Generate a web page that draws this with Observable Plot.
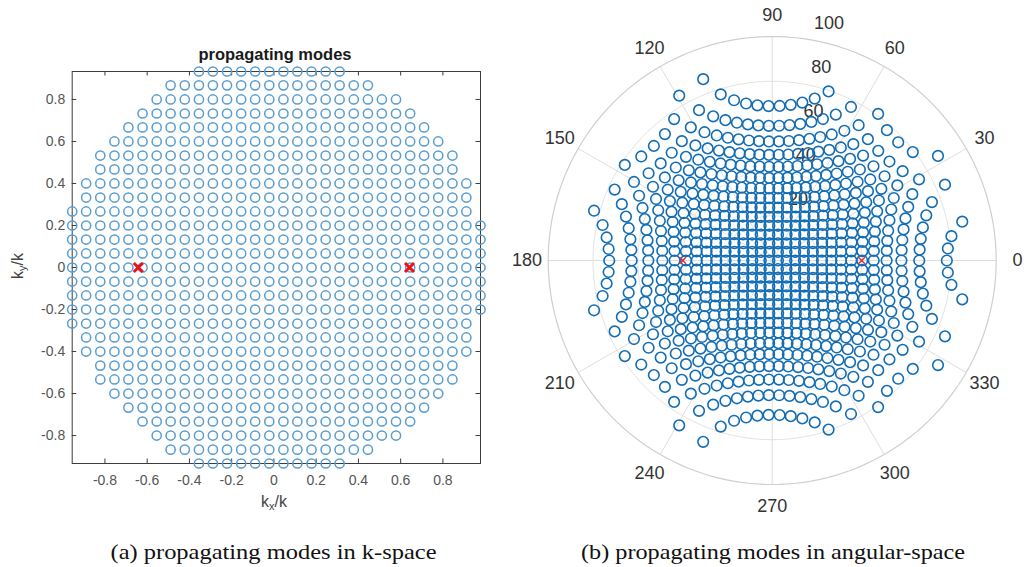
<!DOCTYPE html>
<html><head><meta charset="utf-8">
<script src="https://cdn.jsdelivr.net/npm/d3@7"></script>
<script src="https://cdn.jsdelivr.net/npm/@observablehq/plot@0.6"></script>
<style>
body{margin:0;background:#fff;}
#wrap{position:relative;width:1028px;height:567px;overflow:hidden;font-family:"Liberation Sans",Arial,sans-serif;}
#wrap svg{position:absolute;top:0;overflow:visible;}
.lab{position:absolute;white-space:nowrap;color:#444;font-size:16px;font-family:"Liberation Sans",Arial,sans-serif;}
.lab sub{font-size:11px;vertical-align:-3px;}
</style></head><body><div id="wrap"></div>
<script>
// ---- data ----
// k-space grid columns (kx/k) and rows (ky/k, top to bottom)
const kxCols = [-0.955,-0.889,-0.822,-0.755,-0.689,-0.622,-0.555,-0.489,-0.422,-0.355,
                -0.289,-0.222,-0.155,-0.089,-0.022,0.045,0.111,0.178,0.245,0.311,
                0.378,0.445,0.511,0.578,0.645,0.711,0.778,0.845,0.911,0.978];
const kyRows = [0.933,0.867,0.8,0.733,0.667,0.6,0.533,0.467,0.4,0.333,0.267,0.2,0.133,0.067,0,
                -0.067,-0.133,-0.2,-0.267,-0.333,-0.4,-0.467,-0.533,-0.6,-0.667,-0.733,-0.8,-0.867,-0.933];
// first / last occupied column index of each row (top to bottom)
const rowFirst = [9,7,6,5,4,3,2,2,1,1,0,0,0,0,0,0,0,0,0,1,1,2,2,3,4,5,6,7,9];
const rowLast  = [19,21,23,24,25,26,27,27,28,28,28,29,29,29,29,29,29,29,28,28,28,27,27,26,25,24,23,21,19];
// red crosses
const markKx = [-0.642, 0.642];
const markKy = [0, 0];
// tick labels
const xTicks = [-0.8,-0.6,-0.4,-0.2,0,0.2,0.4,0.6,0.8];
const yTicks = [-0.8,-0.6,-0.4,-0.2,0,0.2,0.4,0.6,0.8];
const thetaTicks = [0,30,60,90,120,150,180,210,240,270,300,330];
const rTicks = [20,40,60,80,100];
const rAxisAngle = 80;

// ---- build tables ----
const modes = kyRows.flatMap((ky, i) => d3.range(rowFirst[i], rowLast[i] + 1).map(c => ({kx: kxCols[c], ky})));
const marks = markKx.map((kx, i) => ({kx, ky: markKy[i]}));
const deg = Math.PI / 180;
const toPolar = d => {
  const rho = Math.asin(Math.min(1, Math.hypot(d.kx, d.ky))) / deg;
  const th = Math.atan2(d.ky, d.kx);
  return {x: rho * Math.cos(th), y: rho * Math.sin(th)};
};
const polarModes = modes.map(toPolar);
const polarMarks = marks.map(toPolar);

const wrap = document.getElementById("wrap");
const sans = "'Liberation Sans', Arial, sans-serif";

// ---- left: k-space ----
const xDom = [kxCols[0], kxCols[kxCols.length - 1]];
const yDom = [kyRows[kyRows.length - 1], kyRows[0]];
const L = {w: 514, h: 530, ml: 71.7, mr: 34, mt: 71, mb: 67};
const pxX = (L.w - L.ml - L.mr) / (xDom[1] - xDom[0]);
const pxY = (L.h - L.mt - L.mb) / (yDom[1] - yDom[0]);
const tl = 4.5;
const frameColor = "#3c3c3c";
const left = Plot.plot({
  width: L.w, height: L.h,
  marginLeft: L.ml, marginRight: L.mr, marginTop: L.mt, marginBottom: L.mb,
  x: {domain: xDom}, y: {domain: yDom},
  style: {background: "transparent", fontFamily: sans},
  marks: [
    Plot.frame({stroke: frameColor, strokeWidth: 1}),
    Plot.ruleX(xTicks, {x: d => d, y1: () => yDom[0], y2: () => yDom[0] + tl / pxY, stroke: frameColor}),
    Plot.ruleX(xTicks, {x: d => d, y1: () => yDom[1], y2: () => yDom[1] - tl / pxY, stroke: frameColor}),
    Plot.ruleY(yTicks, {y: d => d, x1: () => xDom[0], x2: () => xDom[0] + tl / pxX, stroke: frameColor}),
    Plot.ruleY(yTicks, {y: d => d, x1: () => xDom[1], x2: () => xDom[1] - tl / pxX, stroke: frameColor}),
    Plot.axisX(xTicks, {tickSize: 0, tickPadding: 12, fontSize: 14, color: "#555", tickFormat: d => String(d), label: null}),
    Plot.axisY(yTicks, {tickSize: 0, tickPadding: 7, fontSize: 14, color: "#555", tickFormat: d => String(d), label: null}),
    Plot.dot(modes, {x: "kx", y: "ky", r: 4.6, stroke: "#5a9dd0", strokeWidth: 1.5, fill: "none"}),
    Plot.dot(marks, {x: "kx", y: "ky", symbol: "times", r: 4.2, stroke: "#e8141a", strokeWidth: 3})
  ]
});
left.style.left = "0px";
wrap.appendChild(left);

// ---- right: angular space (polar) ----
const R = {w: 514, h: 540, ml: 11.3, mr: 9.9, mt: 13.6, mb: 33.6};
const ringPts = r => d3.range(0, 361, 2).map(a => ({x: r * Math.cos(a * deg), y: r * Math.sin(a * deg)}));
const innerRings = rTicks.slice(0, -1).flatMap(r => ringPts(r).map(p => ({...p, r})));
const outerRing = ringPts(rTicks[rTicks.length - 1]);
const rMax = rTicks[rTicks.length - 1];
const labR = 109.5;
const right = Plot.plot({
  width: R.w, height: R.h,
  marginLeft: R.ml, marginRight: R.mr, marginTop: R.mt, marginBottom: R.mb,
  x: {domain: [-110, 110], axis: null}, y: {domain: [-110, 110], axis: null},
  style: {background: "transparent", fontFamily: sans, overflow: "visible"},
  marks: [
    Plot.line(innerRings, {x: "x", y: "y", z: "r", stroke: "#e3e3e3", strokeWidth: 1}),
    Plot.link(thetaTicks, {x1: () => 0, y1: () => 0, x2: a => rMax * Math.cos(a * deg), y2: a => rMax * Math.sin(a * deg), stroke: "#dedede", strokeWidth: 1}),
    Plot.line(outerRing, {x: "x", y: "y", stroke: "#cfcfcf", strokeWidth: 1.2}),
    Plot.text(thetaTicks, {x: a => labR * Math.cos(a * deg), y: a => labR * Math.sin(a * deg), text: a => String(a), fontSize: 18, fill: "#333"}),
    Plot.text(rTicks, {x: r => r * Math.cos(rAxisAngle * deg), y: r => r * Math.sin(rAxisAngle * deg), text: r => String(r), dx: 18, dy: -17, fontSize: 18, fill: "#333"}),
    Plot.dot(polarModes, {x: "x", y: "y", r: 5.3, stroke: "#136db4", strokeWidth: 1.6, fill: "none"}),
    Plot.dot(polarMarks, {x: "x", y: "y", symbol: "times", r: 3, stroke: "#e0303a", strokeWidth: 1.5})
  ]
});
right.style.left = "514px";
wrap.appendChild(right);

// ---- titles, axis labels, captions ----
const title = document.createElement("div");
title.className = "lab";
title.style.cssText = "left:275px;top:54px;transform:translate(-50%,-50%);font-weight:bold;font-size:16.5px;color:#1a1a1a;";
title.textContent = "propagating modes";
wrap.appendChild(title);

const xl = document.createElement("div");
xl.className = "lab";
xl.style.cssText = "left:274px;top:502px;transform:translate(-50%,-50%);";
xl.innerHTML = "k<sub>x</sub>/k";
wrap.appendChild(xl);

const yl = document.createElement("div");
yl.className = "lab";
yl.style.cssText = "left:18px;top:266px;transform:translate(-50%,-50%) rotate(-90deg);";
yl.innerHTML = "k<sub>y</sub>/k";
wrap.appendChild(yl);

const cap = d3.select(wrap).append("svg")
  .attr("width", 1028).attr("height", 567)
  .style("left", "0px").style("pointer-events", "none");
const captions = [
  {text: "(a) propagating modes in k-space", cx: 273.5, w: 326},
  {text: "(b) propagating modes in angular-space", cx: 773, w: 384}
];
cap.selectAll("text").data(captions).join("text")
  .attr("x", d => d.cx - d.w / 2).attr("y", 559)
  .attr("textLength", d => d.w).attr("lengthAdjust", "spacingAndGlyphs")
  .attr("font-family", "'Liberation Serif', 'Times New Roman', serif")
  .attr("font-size", 21).attr("fill", "#111")
  .text(d => d.text);
</script>
</body></html>
